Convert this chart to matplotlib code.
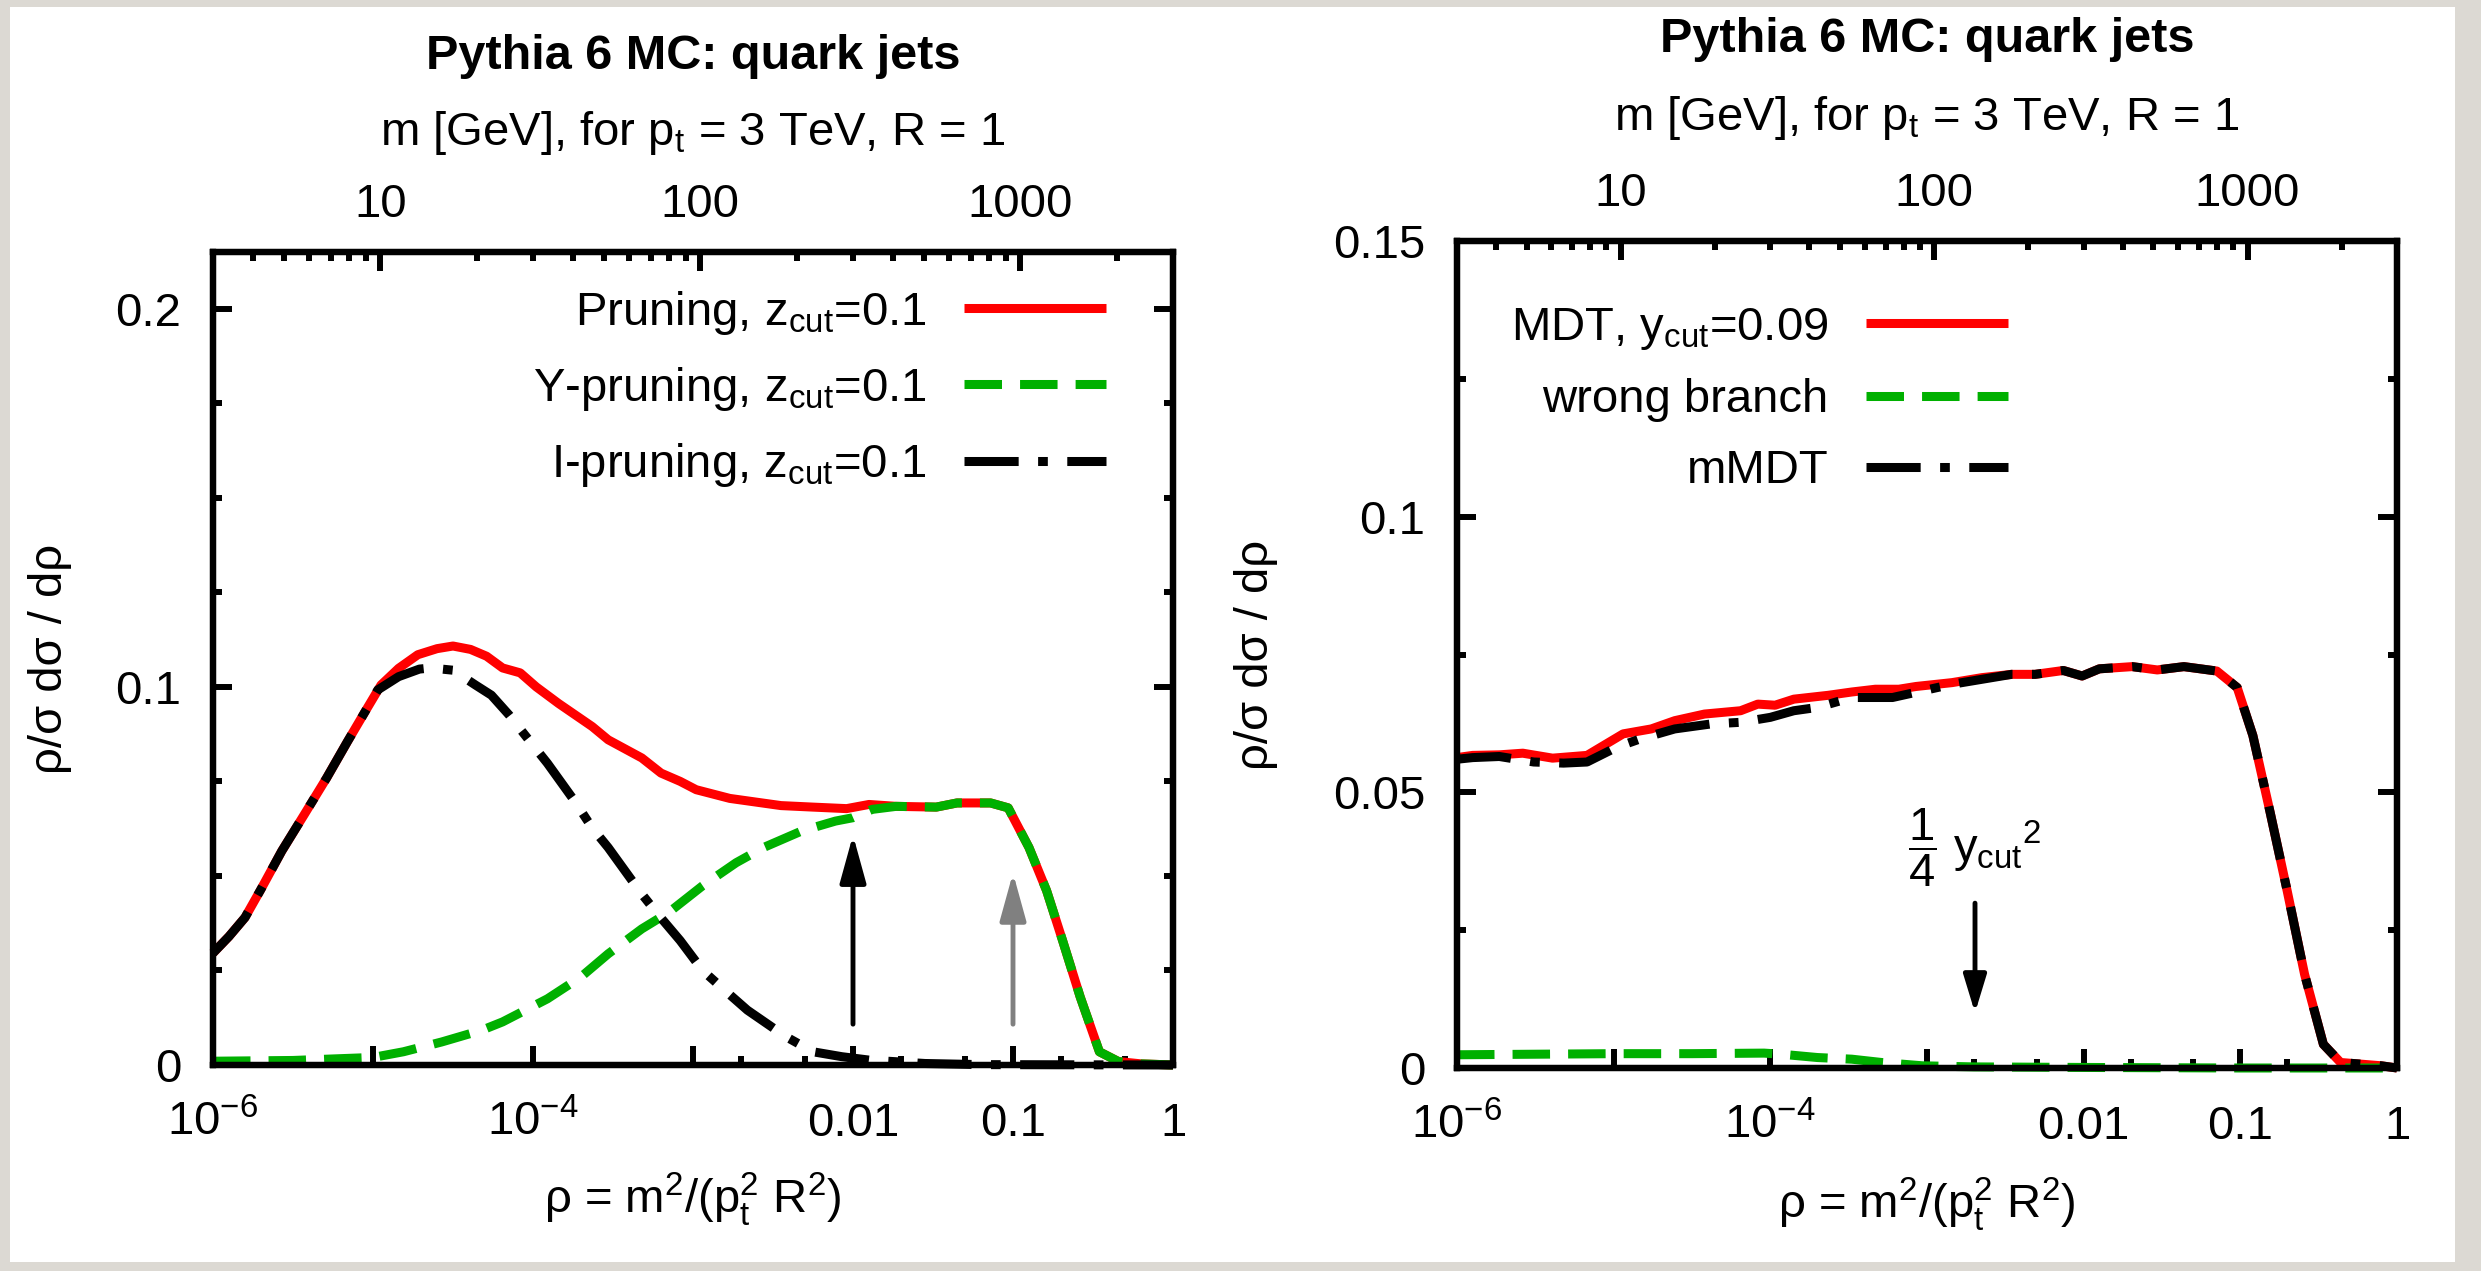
import numpy as np
import matplotlib
matplotlib.use("Agg")
import matplotlib.pyplot as plt
from matplotlib.patches import Rectangle

plt.rcParams['font.family'] = ['Liberation Sans', 'DejaVu Sans']
plt.rcParams['mathtext.fontset'] = 'custom'
plt.rcParams['mathtext.rm'] = 'Liberation Sans'
plt.rcParams['mathtext.it'] = 'Liberation Sans'
plt.rcParams['mathtext.bf'] = 'Liberation Sans:bold'
plt.rcParams['lines.scale_dashes'] = False

PT = 3000.0   # GeV, R = 1
YCUT = 0.09

# ---- left panel: pruning variants (x = log10 rho) ----
prun_lr = [-6.0, -5.9, -5.8, -5.7, -5.57, -5.43, -5.29, -5.16, -5.05, -4.95, -4.84, -4.72,
           -4.60, -4.50, -4.39, -4.29, -4.19, -4.08, -3.98, -3.84, -3.63, -3.53, -3.32, -3.20,
           -3.08, -2.98, -2.77, -2.45, -2.25, -2.04, -1.90, -1.73, -1.48, -1.35, -1.14, -1.03,
           -0.90, -0.79, -0.69, -0.58, -0.46, -0.34, -0.2, 0.0]
prun_val = [0.0296, 0.0340, 0.0390, 0.0465, 0.0566, 0.0662, 0.0759, 0.0855, 0.0934, 0.1005, 0.1049, 0.1085,
            0.1101, 0.1108, 0.1099, 0.1081, 0.1050, 0.1037, 0.1000, 0.0956, 0.0895, 0.0860, 0.0812, 0.0772,
            0.0750, 0.0728, 0.0705, 0.0686, 0.0682, 0.0678, 0.0689, 0.0684, 0.0682, 0.0693, 0.0693, 0.0680,
            0.0575, 0.0461, 0.0329, 0.0180, 0.0035, 0.0009, 0.0003, 0.0]

ypr_lr = [-6.0, -5.5, -5.0, -4.81, -4.57, -4.32, -4.19, -3.91, -3.70, -3.53, -3.32, -3.15, -2.94,
          -2.73, -2.56, -2.32, -2.11, -2.00, -1.88, -1.73, -1.48, -1.35, -1.14, -1.03, -0.90, -0.79,
          -0.69, -0.58, -0.46, -0.34, -0.2, 0.0]
ypr_val = [0.0010, 0.0012, 0.0020, 0.0035, 0.0061, 0.0092, 0.0114, 0.0175, 0.0233, 0.0294, 0.0360, 0.0404, 0.0474,
           0.0535, 0.0575, 0.0619, 0.0645, 0.0654, 0.0676, 0.0684, 0.0682, 0.0693, 0.0693, 0.0680, 0.0575, 0.0461,
           0.0329, 0.0180, 0.0035, 0.0009, 0.0003, 0.0]

ipr_lr = [-6.0, -5.9, -5.8, -5.7, -5.57, -5.43, -5.29, -5.16, -5.05, -4.97, -4.84, -4.71, -4.64, -4.50,
          -4.36, -4.26, -4.15, -4.01, -3.91, -3.74, -3.63, -3.53, -3.32, -3.22, -3.08, -2.94, -2.80,
          -2.66, -2.42, -2.25, -2.07, -1.90, -1.55, -1.2, 0.0]
ipr_val = [0.0296, 0.0340, 0.0390, 0.0465, 0.0566, 0.0662, 0.0759, 0.0855, 0.0934, 0.0992, 0.1027, 0.1047, 0.1050, 0.1044,
           0.1005, 0.0978, 0.0926, 0.0851, 0.0798, 0.0698, 0.0627, 0.0575, 0.0452, 0.0399, 0.0329, 0.0250, 0.0197,
           0.0145, 0.0075, 0.0035, 0.0022, 0.0013, 0.0004, 0.0001, 0.0]

# ---- right panel: MDT ----
mdt_lr = [-6.0, -5.9, -5.73, -5.58, -5.39, -5.17, -4.94, -4.76, -4.61, -4.42, -4.19, -4.08, -3.97,
          -3.85, -3.63, -3.48, -3.33, -3.18, -3.07, -2.84, -2.65, -2.46, -2.31, -2.13, -2.01, -1.90,
          -1.69, -1.53, -1.36, -1.15, -1.02, -0.92, -0.81, -0.70, -0.59, -0.47, -0.36, -0.10, 0.0]
mdt_val = [0.0563, 0.0567, 0.0568, 0.0571, 0.0562, 0.0567, 0.0606, 0.0615, 0.0630, 0.0642, 0.0648, 0.0660, 0.0658,
           0.0669, 0.0676, 0.0682, 0.0687, 0.0687, 0.0692, 0.0699, 0.0708, 0.0714, 0.0714, 0.0721, 0.0711, 0.0724,
           0.0728, 0.0722, 0.0728, 0.0720, 0.0690, 0.0603, 0.0464, 0.0320, 0.0170, 0.0043, 0.0010, 0.0004, 0.0]

wrong_lr = [-6.0, -5.5, -5.0, -4.5, -4.04, -3.93, -3.70, -3.48, -3.29, -3.03, -2.7, -2.0, -1.0, 0.0]
wrong_val = [0.0024, 0.0025, 0.0026, 0.0026, 0.0027, 0.0025, 0.0019, 0.0016, 0.0010, 0.0004, 0.0002, 0.0001, 0.0, 0.0]

mmdt_lr = [-6.0, -5.9, -5.73, -5.51, -5.32, -5.17, -4.98, -4.83, -4.61, -4.38, -4.19, -4.00, -3.85,
           -3.70, -3.48, -3.22, -3.03, -2.84, -2.65, -2.46, -2.31, -2.13, -2.01, -1.90, -1.69, -1.53,
           -1.36, -1.15, -1.02, -0.92, -0.81, -0.70, -0.59, -0.47, -0.36, -0.10, 0.0]
mmdt_val = [0.0560, 0.0563, 0.0565, 0.0555, 0.0553, 0.0555, 0.0582, 0.0597, 0.0615, 0.0624, 0.0627, 0.0636, 0.0648,
            0.0654, 0.0672, 0.0672, 0.0684, 0.0696, 0.0705, 0.0714, 0.0714, 0.0721, 0.0711, 0.0724, 0.0728, 0.0722,
            0.0728, 0.0720, 0.0690, 0.0603, 0.0464, 0.0320, 0.0170, 0.0043, 0.0010, 0.0004, 0.0]

left_labels = [r'Pruning, z$_{\rm cut}$=0.1', r'Y-pruning, z$_{\rm cut}$=0.1', r'I-pruning, z$_{\rm cut}$=0.1']
right_labels = [r'MDT, y$_{\rm cut}$=0.09', 'wrong branch', 'mMDT']

xtick_pos = [1e-6, 1e-5, 1e-4, 1e-3, 1e-2, 1e-1, 1]
xtick_lab = [r'$10^{-6}$', '', r'$10^{-4}$', '', '0.01', '0.1', '1']
xminor_pos = [2e-3, 5e-3, 2e-2, 5e-2, 0.2, 0.5]
mtick_pos = [10, 100, 1000]
mminor_pos = [4, 5, 6, 7, 8, 9, 20, 30, 40, 50, 60, 70, 80, 90,
              200, 300, 400, 500, 600, 700, 800, 900, 2000]

RED = '#ff0000'
GREEN = '#00b000'
FS = 34
LW = 6.5
DASH = (0, (27, 13))
DASHDOT = (0, (39, 14, 7, 14))

fig = plt.figure(figsize=(24.81, 12.71), dpi=100, facecolor='#dcd9d3')
fig.add_artist(Rectangle((10 / 2481, 1 - 1262 / 1271), 2445 / 2481, 1255 / 1271,
                         transform=fig.transFigure, facecolor='white', edgecolor='none', zorder=-5))


def setup(ax, ymax, ymajor, ylab_x, title_y, mlab_y):
    ax.set_xscale('log')
    ax.set_xlim(1e-6, 1)
    ax.set_ylim(0, ymax)
    ax.set_xticks(xtick_pos)
    ax.set_xticklabels(xtick_lab)
    ax.set_xticks(xminor_pos, minor=True)
    ax.set_xticklabels([], minor=True)
    ax.set_yticks(ymajor)
    ax.set_yticklabels(['0' if v == 0 else f'{v:g}' for v in ymajor])
    ax.set_yticks(np.arange(0, ymax + 1e-9, 0.025), minor=True)
    ax.tick_params(which='both', direction='in', width=4.3, labelsize=FS,
                   top=False, right=True, left=True, bottom=True)
    ax.tick_params(which='major', length=13.5)
    ax.tick_params(which='minor', length=6.8)
    ax.tick_params(axis='x', which='major', pad=51)
    ax.tick_params(axis='y', which='major', pad=23)
    for t in ax.get_xticklabels():
        t.set_verticalalignment('baseline')
    for s in ax.spines.values():
        s.set_linewidth(4.5)
        s.set_zorder(5)
    ax.set_xlabel(r'ρ = m$^2$/(p$_{\rm t}^2$ R$^2$)', fontsize=FS)
    ax.xaxis.set_label_coords(0.5, -0.165)
    ax.xaxis.label.set_verticalalignment('center')
    ax.set_ylabel('ρ/σ dσ / dρ', fontsize=FS)
    ax.yaxis.set_label_coords(ylab_x, 0.5)

    top = ax.twiny()
    top.set_xscale('log')
    top.set_xlim(PT * np.sqrt(1e-6), PT)
    top.set_xticks(mtick_pos)
    top.set_xticklabels([str(m) for m in mtick_pos])
    top.set_xticks(mminor_pos, minor=True)
    top.set_xticklabels([], minor=True)
    top.tick_params(which='both', direction='in', width=4.3, labelsize=FS, pad=18)
    top.tick_params(which='major', length=13.5)
    top.tick_params(which='minor', length=6.8)
    for s in top.spines.values():
        s.set_linewidth(4.5)
    top.set_xlabel(r'm [GeV], for p$_{\rm t}$ = 3 TeV, R = 1', fontsize=FS)
    top.xaxis.set_label_coords(0.5, mlab_y)
    top.xaxis.label.set_verticalalignment('center')
    top.text(0.5, title_y, 'Pythia 6 MC: quark jets', transform=top.transAxes,
             ha='center', va='center', fontsize=FS + 1, fontweight='bold')
    return top


def curve(ax, lr, val, color, ls):
    return ax.plot(10.0 ** np.array(lr), val, color=color, lw=LW, linestyle=ls,
                   solid_capstyle='butt', dash_capstyle='butt', clip_on=False)[0]


# ---------------- left ----------------
axL = fig.add_axes([213 / 2481, 1 - 1065 / 1271, 960 / 2481, 813 / 1271])
setup(axL, 0.215, [0, 0.1, 0.2], -0.147, 1.240, 1.146)
hL = [curve(axL, prun_lr, prun_val, RED, '-'),
      curve(axL, ypr_lr, ypr_val, GREEN, DASH),
      curve(axL, ipr_lr, ipr_val, 'k', DASHDOT)]
axL.annotate('', xy=(0.01, 0.0608), xytext=(0.01, 0.0108),
             arrowprops=dict(arrowstyle='-|>,head_length=1.45,head_width=0.4', color='k',
                             lw=3.5, shrinkA=0, shrinkB=0, mutation_scale=20))
axL.annotate('', xy=(0.1, 0.0508), xytext=(0.1, 0.0108),
             arrowprops=dict(arrowstyle='-|>,head_length=1.45,head_width=0.4', color='#808080',
                             lw=3.5, shrinkA=0, shrinkB=0, mutation_scale=20))
axL.legend(hL, left_labels, loc='upper right', bbox_to_anchor=(0.930, 0.955), frameon=False,
           markerfirst=False, fontsize=FS, handlelength=3.0, handletextpad=0.8,
           labelspacing=0.60, borderpad=0, borderaxespad=0)

# ---------------- right ----------------
axR = fig.add_axes([1457 / 2481, 1 - 1068 / 1271, 940 / 2481, 827 / 1271])
setup(axR, 0.15, [0, 0.05, 0.1, 0.15], -0.19, 1.244, 1.149)
hR = [curve(axR, mdt_lr, mdt_val, RED, '-'),
      curve(axR, wrong_lr, wrong_val, GREEN, DASH),
      curve(axR, mmdt_lr, mmdt_val, 'k', DASHDOT)]
rho_cut = YCUT ** 2 / 4
axR.annotate('', xy=(rho_cut, 0.0100), xytext=(rho_cut, 0.0299),
             arrowprops=dict(arrowstyle='-|>,head_length=1.15,head_width=0.35', color='k',
                             lw=3.5, shrinkA=0, shrinkB=0, mutation_scale=20))
axR.text(rho_cut, 0.040, r'$\dfrac{1}{4}\ {y_{\rm cut}}^{2}$', ha='center', va='center', fontsize=FS)
axR.legend(hR, right_labels, loc='upper right', bbox_to_anchor=(0.586, 0.922), frameon=False,
           markerfirst=False, fontsize=FS, handlelength=3.0, handletextpad=0.8,
           labelspacing=0.57, borderpad=0, borderaxespad=0)

fig.savefig('out.png', dpi=100, facecolor=fig.get_facecolor())
